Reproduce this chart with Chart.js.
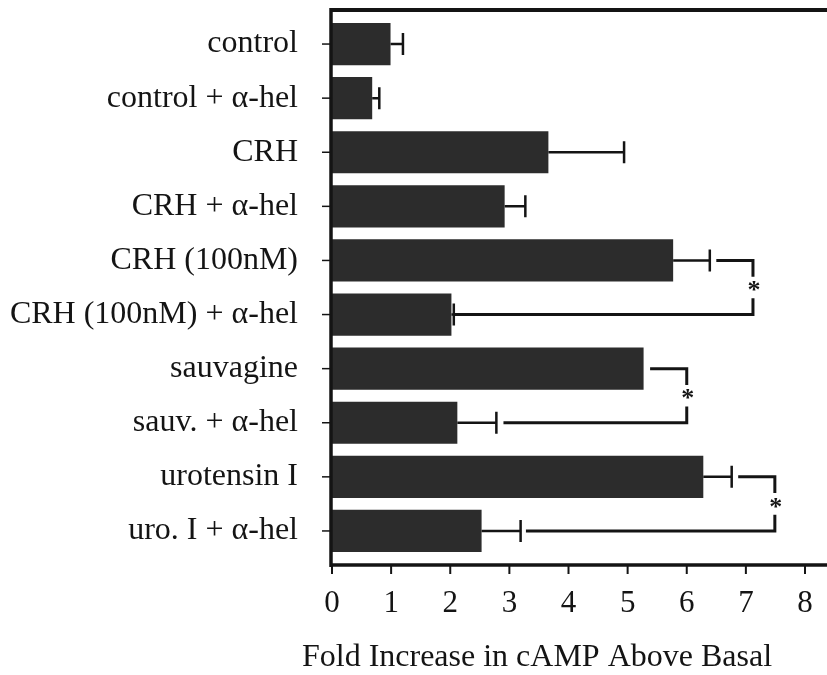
<!DOCTYPE html>
<html>
<head>
<meta charset="utf-8">
<script src="https://cdn.jsdelivr.net/npm/chart.js@4.4.1/dist/chart.umd.min.js"></script>
<style>
  body { margin: 0; background: #fff; }
  canvas { display: block; }
</style>
</head>
<body>
<canvas id="camp" width="827" height="675"></canvas>
<script>
// data
const categories = [
    'control', 'control + α-hel', 'CRH', 'CRH + α-hel', 'CRH (100nM)',
    'CRH (100nM) + α-hel', 'sauvagine', 'sauv. + α-hel', 'urotensin I', 'uro. I + α-hel'
];
const foldIncrease = [0.99, 0.68, 3.66, 2.92, 5.77, 2.02, 5.27, 2.12, 6.28, 2.53];
const errorTop = [1.20, 0.80, 4.94, 3.27, 6.39, 2.06, 5.27, 2.78, 6.76, 3.19];
const xTicks = [0, 1, 2, 3, 4, 5, 6, 7, 8];

// significance brackets (row indices and x values)
const bracketUpperRow = [4, 6, 8];
const bracketLowerRow = [5, 7, 9];
const bracketUpperFrom = [6.50, 5.38, 6.87];
const bracketLowerFrom = [2.08, 2.90, 3.28];
const bracketRight = [7.12, 6.00, 7.49];

const serif = '"Liberation Serif", "DejaVu Serif", serif';
const ink = '#141414';

const extras = {
    id: 'extras',
    afterDatasetsDraw(chart) {
        const ctx = chart.ctx;
        const xs = chart.scales.x;
        const ys = chart.scales.y;
        const W = chart.width;
        const frameTop = 10;
        const frameBottom = 565;
        const x0 = xs.getPixelForValue(0);

        ctx.save();
        ctx.strokeStyle = ink;
        ctx.lineCap = 'butt';

        // frame
        ctx.lineWidth = 4;
        ctx.beginPath();
        ctx.moveTo(x0 - 1, frameTop);
        ctx.lineTo(W, frameTop);
        ctx.stroke();
        ctx.lineWidth = 3.5;
        ctx.beginPath();
        ctx.moveTo(x0 - 1, frameTop - 2);
        ctx.lineTo(x0 - 1, frameBottom + 2);
        ctx.stroke();
        ctx.beginPath();
        ctx.moveTo(x0 - 2, frameBottom);
        ctx.lineTo(W, frameBottom);
        ctx.stroke();

        // tick marks
        ctx.lineWidth = 2;
        xTicks.forEach(v => {
            const px = xs.getPixelForValue(v);
            ctx.beginPath();
            ctx.moveTo(px, frameBottom);
            ctx.lineTo(px, frameBottom + 9);
            ctx.stroke();
        });
        ctx.lineWidth = 1.5;
        categories.forEach((c, i) => {
            const py = ys.getPixelForValue(i);
            ctx.beginPath();
            ctx.moveTo(x0 - 10, py);
            ctx.lineTo(x0 - 1, py);
            ctx.stroke();
        });

        // error bars
        ctx.lineWidth = 2.5;
        foldIncrease.forEach((v, i) => {
            if (errorTop[i] <= v) return;
            const py = ys.getPixelForValue(i);
            const a = xs.getPixelForValue(v);
            const b = xs.getPixelForValue(errorTop[i]);
            ctx.beginPath();
            ctx.moveTo(a, py);
            ctx.lineTo(b, py);
            ctx.moveTo(b, py - 11);
            ctx.lineTo(b, py + 11);
            ctx.stroke();
        });

        // brackets with stars
        ctx.lineWidth = 3;
        ctx.fillStyle = ink;
        ctx.font = 'bold 26px ' + serif;
        ctx.textAlign = 'center';
        ctx.textBaseline = 'middle';
        bracketUpperRow.forEach((row, k) => {
            const yU = ys.getPixelForValue(row);
            const yL = ys.getPixelForValue(bracketLowerRow[k]);
            const xr = xs.getPixelForValue(bracketRight[k]);
            const leg = (yL - yU) * 0.3;
            ctx.beginPath();
            ctx.moveTo(xs.getPixelForValue(bracketUpperFrom[k]), yU);
            ctx.lineTo(xr, yU);
            ctx.lineTo(xr, yU + leg);
            ctx.moveTo(xr, yL - leg);
            ctx.lineTo(xr, yL);
            ctx.lineTo(xs.getPixelForValue(bracketLowerFrom[k]), yL);
            ctx.stroke();
            ctx.fillText('*', xr + 1, (yU + yL) / 2 + 4);
        });

        // axis title
        ctx.font = '32px ' + serif;
        ctx.fillText('Fold Increase in cAMP Above Basal', 537, 658);
        ctx.restore();
    }
};

new Chart(document.getElementById('camp'), {
    type: 'bar',
    data: {
        labels: categories,
        datasets: [{
            data: foldIncrease,
            backgroundColor: '#2c2c2c',
            borderWidth: 0,
            barPercentage: 0.78,
            categoryPercentage: 1
        }]
    },
    options: {
        indexAxis: 'y',
        responsive: false,
        animation: false,
        layout: { padding: { top: 17, right: 22, left: 0, bottom: 0 } },
        plugins: {
            legend: { display: false },
            tooltip: { enabled: false }
        },
        scales: {
            x: {
                type: 'linear',
                min: 0,
                max: 8,
                afterFit: s => { s.height = 117; s.paddingLeft = 0; s.paddingRight = 0; },
                afterBuildTicks: s => { s.ticks = xTicks.map(v => ({ value: v })); },
                grid: { display: false, drawTicks: false },
                border: { display: false },
                ticks: {
                    padding: 27,
                    color: ink,
                    font: { family: serif, size: 31 }
                }
            },
            y: {
                type: 'category',
                afterFit: s => { s.width = 332; s.paddingTop = 0; s.paddingBottom = 0; },
                grid: { display: false, drawTicks: false },
                border: { display: false },
                ticks: {
                    padding: 34,
                    color: ink,
                    font: { family: serif, size: 32 }
                }
            }
        }
    },
    plugins: [extras]
});
</script>
</body>
</html>
